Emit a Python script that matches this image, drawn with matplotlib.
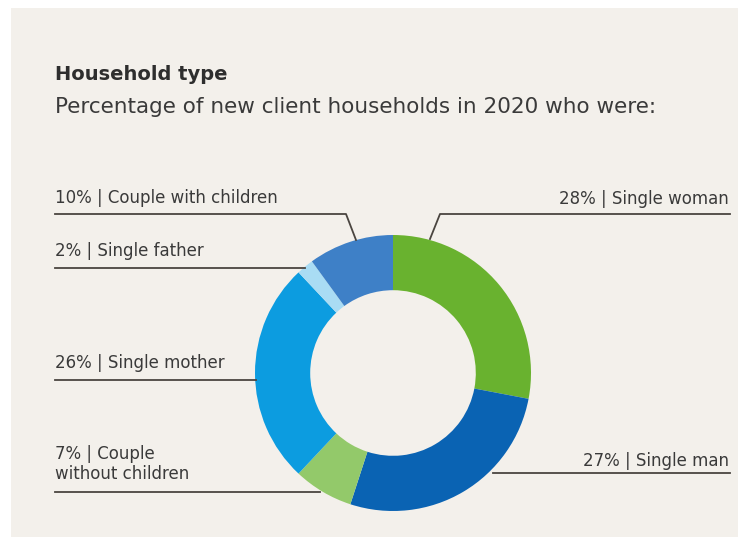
import matplotlib
matplotlib.use("Agg")
import matplotlib.pyplot as plt
import matplotlib.transforms as mtrans
from matplotlib.patches import Rectangle

# Household types, in clockwise order starting at 12 o'clock
categories = ["Single woman", "Single man", "Couple\nwithout children",
              "Single mother", "Single father", "Couple with children"]
shares = [28, 27, 7, 26, 2, 10]
colors = ["#69b22f", "#0a63b3", "#93c96a", "#0c9ce0", "#a9dcf4", "#3e80c7"]

title = "Household type"
subtitle = "Percentage of new client households in 2020 who were:"

W, H = 741, 541
BG = "#f3f0eb"
TXT = "#3a3a3a"
LINE = "#4a4540"

fig = plt.figure(figsize=(W / 100, H / 100), dpi=100)
fig.patch.set_facecolor("white")
ax = fig.add_axes([0, 0, 1, 1])
ax.set_xlim(0, W)
ax.set_ylim(H, 0)
ax.set_aspect("equal")
ax.axis("off")

# Beige card behind the chart
ax.add_patch(Rectangle((11, 8), W - 14, H - 12, facecolor=BG, edgecolor="none", zorder=0))

font = "DejaVu Sans"
ax.text(55, 75, title, fontsize=14, fontweight="bold", color="#2e2e2e",
        family=font, va="center", ha="left")
ax.text(55, 107, subtitle, fontsize=15.5, color=TXT,
        family=font, va="center", ha="left")

# Donut
cx, cy, r = 393, 373, 138
wedges, _ = ax.pie(shares, colors=colors, startangle=90, counterclock=False,
                   center=(cx, cy), radius=r,
                   wedgeprops=dict(width=r * 0.4, edgecolor="none"))
# y axis is inverted, so mirror the wedges vertically about the centre
flip = mtrans.Affine2D().translate(-cx, -cy).scale(1, -1).translate(cx, cy)
for w in wedges:
    w.set_transform(flip + ax.transData)
ax.set_xlim(0, W)
ax.set_ylim(H, 0)

lbl = [f"{s}% | {c}" for s, c in zip(shares, categories)]
fs = 12

# Right-hand labels
ax.text(729, 199, lbl[0], fontsize=fs, color=TXT, family=font, ha="right", va="center")
ax.plot([730, 440, 430], [214, 214, 239], color=LINE, lw=1.3, zorder=3)
ax.text(729, 461, lbl[1], fontsize=fs, color=TXT, family=font, ha="right", va="center")
ax.plot([730, 493], [473, 473], color=LINE, lw=1.3, zorder=3)

# Left-hand labels
ax.text(55, 198, lbl[5], fontsize=fs, color=TXT, family=font, ha="left", va="center")
ax.plot([55, 346, 356], [214, 214, 240], color=LINE, lw=1.3, zorder=3)
ax.text(55, 251, lbl[4], fontsize=fs, color=TXT, family=font, ha="left", va="center")
ax.plot([55, 305], [268, 268], color=LINE, lw=1.3, zorder=3)
ax.text(55, 363, lbl[3], fontsize=fs, color=TXT, family=font, ha="left", va="center")
ax.plot([55, 256], [380, 380], color=LINE, lw=1.3, zorder=3)
ax.text(55, 464, lbl[2], fontsize=fs, color=TXT, family=font, ha="left", va="center",
        linespacing=1.2)
ax.plot([55, 320], [492, 492], color=LINE, lw=1.3, zorder=3)

fig.savefig("out.png", dpi=100, facecolor=fig.get_facecolor())
